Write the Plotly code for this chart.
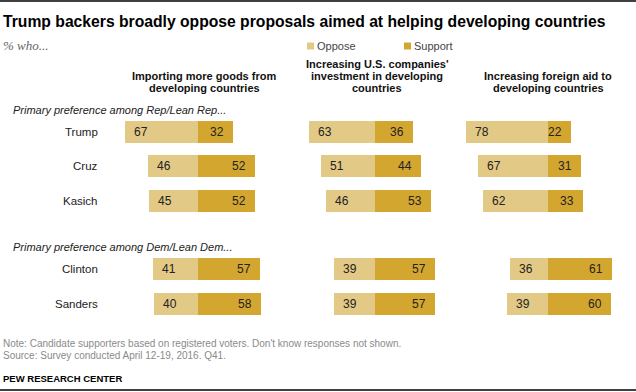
import plotly.graph_objects as go

W, H = 636, 392

# ---------------- data ----------------
candidates = ["Trump", "Cruz", "Kasich", "Clinton", "Sanders"]
row_pos = [0, 1, 2, 4, 5]
groups = ["Primary preference among Rep/Lean Rep...", "Primary preference among Dem/Lean Dem..."]
series_names = ["Oppose", "Support"]
questions = [
    ["Importing more goods from", "developing countries"],
    ["Increasing U.S. companies'", "investment in developing", "countries"],
    ["Increasing foreign aid to", "developing countries"],
]
oppose = [
    [67, 46, 45, 41, 40],
    [63, 51, 46, 39, 39],
    [78, 67, 62, 36, 39],
]
support = [
    [32, 52, 52, 57, 58],
    [36, 44, 53, 57, 57],
    [22, 31, 33, 61, 60],
]

title = "Trump backers broadly oppose proposals aimed at helping developing countries"
subtitle = "% who..."
note = "Note: Candidate supporters based on registered voters. Don't know responses not shown."
source = "Source: Survey conducted April 12-19, 2016. Q41."
credit = "PEW RESEARCH CENTER"

# ---------------- style ----------------
C_OPP = "#E2C985"
C_SUP = "#D3A630"
SANS = "Liberation Sans, Arial, sans-serif"
SERIF = "Liberation Serif, Georgia, serif"
TXT = "#222222"


def px(x):
    return x / W


def py(y):
    return 1 - y / H


# column geometry: (divider px, px per unit, domain px)
cols = [
    (198, 1.09, (110, 292)),
    (375, 1.055, (296, 460)),
    (548, 1.05, (462, 632)),
]

# y geometry
row0_px = 132
row_step = 34.3
bar_h = 22

fig = go.Figure()
annotations = []
axis_names = ["x", "x2", "x3"]

for ci in range(3):
    ax = axis_names[ci]
    fig.add_trace(go.Bar(
        y=row_pos, x=[-v for v in oppose[ci]], orientation="h",
        marker=dict(color=C_OPP, line=dict(width=0)),
        width=bar_h / row_step, name=series_names[0],
        xaxis=ax, yaxis="y", showlegend=False, hoverinfo="skip",
    ))
    fig.add_trace(go.Bar(
        y=row_pos, x=support[ci], orientation="h",
        marker=dict(color=C_SUP, line=dict(width=0)),
        width=bar_h / row_step, name=series_names[1],
        xaxis=ax, yaxis="y", showlegend=False, hoverinfo="skip",
    ))
    for r, yp in enumerate(row_pos):
        annotations.append(dict(
            x=-oppose[ci][r], y=yp, xref=ax, yref="y", text=str(oppose[ci][r]),
            showarrow=False, xanchor="left", xshift=7, yanchor="middle",
            font=dict(family=SANS, size=12, color=TXT),
        ))
        annotations.append(dict(
            x=support[ci][r], y=yp, xref=ax, yref="y", text=str(support[ci][r]),
            showarrow=False, xanchor="right", xshift=-7, yanchor="middle",
            font=dict(family=SANS, size=12, color=TXT),
        ))

# candidate labels
for r, yp in enumerate(row_pos):
    annotations.append(dict(
        x=px(100), y=yp, xref="paper", yref="y", text=candidates[r],
        showarrow=False, xanchor="right", yanchor="middle",
        font=dict(family=SANS, size=11.5, color=TXT),
    ))

# group labels
for gy, gt in zip([110, 247], groups):
    annotations.append(dict(
        x=px(11), y=py(gy), xref="paper", yref="paper", text=f"<i>{gt}</i>",
        showarrow=False, xanchor="left", yanchor="middle",
        font=dict(family=SANS, size=11, color=TXT),
    ))

# column headers, one annotation per line, last line centered at y=88
header_centers = [204, 377, 548]
for hc, lines in zip(header_centers, questions):
    n = len(lines)
    for li, line in enumerate(lines):
        yc = 88 - (n - 1 - li) * 11.8
        annotations.append(dict(
            x=px(hc), y=py(yc), xref="paper", yref="paper", text=f"<b>{line}</b>",
            showarrow=False, xanchor="center", yanchor="middle",
            font=dict(family=SANS, size=11, color="#111111"),
        ))

# title, subtitle
annotations.append(dict(
    x=px(1), y=py(21), xref="paper", yref="paper", text=f"<b>{title}</b>",
    showarrow=False, xanchor="left", yanchor="middle",
    font=dict(family=SANS, size=15.7, color="#000000"),
))
annotations.append(dict(
    x=px(1), y=py(46), xref="paper", yref="paper", text=f"<i>{subtitle}</i>",
    showarrow=False, xanchor="left", yanchor="middle",
    font=dict(family=SERIF, size=13, color="#666666"),
))

# legend (manual)
shapes = []
leg_x = [307, 404]
for lx, name, col in zip(leg_x, series_names, [C_OPP, C_SUP]):
    shapes.append(dict(type="rect", xref="paper", yref="paper",
                       x0=px(lx), x1=px(lx + 7), y0=py(49.5), y1=py(42.5),
                       fillcolor=col, line=dict(width=0)))
    annotations.append(dict(
        x=px(lx + 8), y=py(46), xref="paper", yref="paper", text=name,
        showarrow=False, xanchor="left", yanchor="middle",
        font=dict(family=SANS, size=11, color="#444444"),
    ))

# notes
annotations.append(dict(
    x=px(1), y=py(343), xref="paper", yref="paper", text=note,
    showarrow=False, xanchor="left", yanchor="middle",
    font=dict(family=SANS, size=10, color="#8a8a8a"),
))
annotations.append(dict(
    x=px(1), y=py(355), xref="paper", yref="paper", text=source,
    showarrow=False, xanchor="left", yanchor="middle",
    font=dict(family=SANS, size=10, color="#8a8a8a"),
))
annotations.append(dict(
    x=px(1), y=py(378), xref="paper", yref="paper", text=f"<b>{credit}</b>",
    showarrow=False, xanchor="left", yanchor="middle",
    font=dict(family=SANS, size=9.5, color="#000000"),
))

# rules
shapes.append(dict(type="line", xref="paper", yref="paper", x0=0, x1=1,
                   y0=py(1), y1=py(1), line=dict(color="#000000", width=1.5)))
shapes.append(dict(type="line", xref="paper", yref="paper", x0=0, x1=1,
                   y0=py(390), y1=py(390), line=dict(color="#000000", width=1.5)))

layout_axes = {}
for ci, (div, scale, (d0, d1)) in enumerate(cols):
    key = "xaxis" if ci == 0 else f"xaxis{ci + 1}"
    layout_axes[key] = dict(
        domain=[px(d0), px(d1)],
        range=[(d0 - div) / scale, (d1 - div) / scale],
        visible=False, fixedrange=True, anchor="y",
    )

fig.update_layout(
    width=W, height=H,
    margin=dict(l=0, r=0, t=0, b=0),
    paper_bgcolor="white", plot_bgcolor="white",
    barmode="relative", bargap=0,
    yaxis=dict(range=[(H - row0_px) / row_step, -row0_px / row_step],
               domain=[0, 1], visible=False, fixedrange=True),
    annotations=annotations, shapes=shapes,
    showlegend=False,
    **layout_axes,
)

fig.write_html(
    "out.html",
    config={"displayModeBar": False},
    post_script="document.body.style.margin='0';document.body.style.overflow='hidden';",
)
